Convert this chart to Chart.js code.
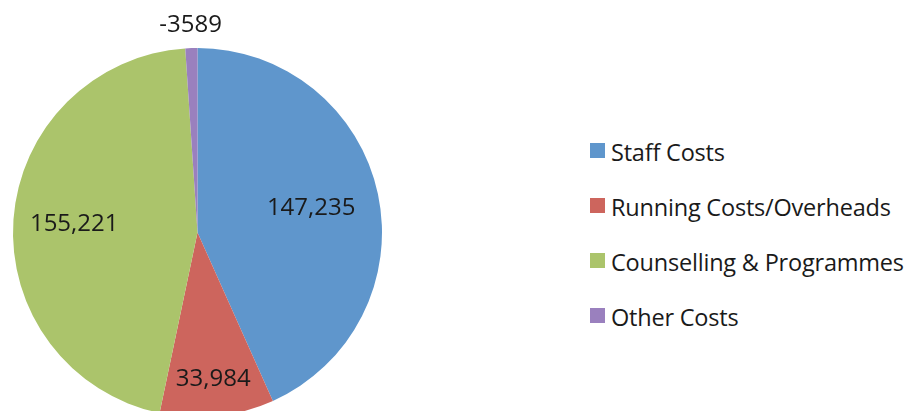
<!DOCTYPE html>
<html>
<head>
    <title>Cost Breakdown</title>
    <script src="https://cdn.jsdelivr.net/npm/chart.js"></script>
    <style>
        html, body {
            margin: 0;
            padding: 0;
            background: #fff;
            overflow: hidden;
            width: 917px;
            height: 411px;
        }
        #costChart {
            position: absolute;
            left: 0;
            top: 0;
        }
        #legend {
            position: absolute;
            left: 590px;
            top: 125px;
            font-family: 'Open Sans', sans-serif;
            font-size: 23.5px;
            letter-spacing: -0.2px;
            color: #1a1a1a;
        }
        .legend-row {
            height: 55px;
            line-height: 55px;
            white-space: nowrap;
        }
        .legend-box {
            display: inline-block;
            width: 15px;
            height: 15px;
            margin-right: 6px;
            vertical-align: 3px;
        }
    </style>
</head>
<body>
    <canvas id="costChart" width="395" height="465"></canvas>
    <div id="legend"></div>
    <script>
        // chart data
        var categories = ['Staff Costs', 'Running Costs/Overheads', 'Counselling & Programmes', 'Other Costs'];
        var costValues = [147235, 33984, 155221, -3589];
        var sliceColors = ['#5f96cc', '#cd655d', '#abc46b', '#9a80be'];

        // how far out from the centre each value label sits (fraction of radius)
        var labelRadius = [0.63, 0.8, 0.67, 1.125];

        var ctx = document.getElementById('costChart').getContext('2d');

        var costChart = new Chart(ctx, {
            type: 'pie',
            data: {
                labels: categories,
                datasets: [{
                    data: costValues.map(function(v) { return Math.abs(v); }),
                    backgroundColor: sliceColors,
                    borderWidth: 0
                }]
            },
            options: {
                responsive: false,
                animation: false,
                radius: 184.5,
                plugins: {
                    legend: { display: false },
                    tooltip: { enabled: false }
                }
            },
            plugins: [{
                id: 'valueLabels',
                afterDatasetsDraw: function(chart) {
                    var c = chart.ctx;
                    c.save();
                    c.font = '24px "Open Sans"';
                    c.fillStyle = '#1a1a1a';
                    c.textAlign = 'center';
                    c.textBaseline = 'middle';
                    chart.getDatasetMeta(0).data.forEach(function(arc, i) {
                        var mid = (arc.startAngle + arc.endAngle) / 2;
                        var r = arc.outerRadius * labelRadius[i];
                        var v = costValues[i];
                        var text = v < 0 ? String(v) : v.toLocaleString('en-US');
                        c.fillText(text, arc.x + Math.cos(mid) * r, arc.y + Math.sin(mid) * r);
                    });
                    c.restore();
                }
            }]
        });

        // html legend built from the chart's own legend items
        var legendEl = document.getElementById('legend');
        costChart.options.plugins.legend.labels.generateLabels(costChart).forEach(function(item) {
            var row = document.createElement('div');
            row.className = 'legend-row';
            var box = document.createElement('span');
            box.className = 'legend-box';
            box.style.background = item.fillStyle;
            row.appendChild(box);
            row.appendChild(document.createTextNode(item.text));
            legendEl.appendChild(row);
        });
    </script>
</body>
</html>
